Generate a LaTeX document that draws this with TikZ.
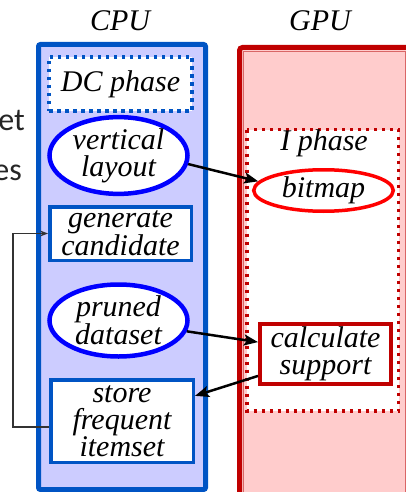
\documentclass[tikz,border=0pt]{standalone}
\usepackage{fontspec}
\setmainfont{Liberation Serif}
\newfontfamily\slidefont{Carlito}
\usetikzlibrary{shapes.geometric,arrows.meta}
\definecolor{cpublue}{RGB}{0,84,196}
\definecolor{purblue}{RGB}{0,0,255}
\definecolor{lav}{RGB}{204,204,255}
\definecolor{gpured}{RGB}{192,0,0}
\definecolor{brred}{RGB}{255,0,0}
\definecolor{pinkf}{RGB}{255,204,204}
\tikzset{
  lbl/.style={font=\fontsize{30}{27}\selectfont\itshape, align=center, inner sep=0pt},
  bluerect/.style={lbl, draw=cpublue, line width=3.5pt, fill=white, rectangle},
  blueell/.style={lbl, draw=purblue, line width=4.5pt, fill=white, ellipse},
  redell/.style={lbl, draw=brred, line width=3.5pt, fill=white, ellipse},
  redrect/.style={lbl, draw=gpured, line width=4pt, fill=white, rectangle},
  bigarrow/.style={-{Stealth[length=14pt,width=11pt,inset=3pt]}, line width=2.5pt, black},
  thinarrow/.style={-{Stealth[length=8pt,width=6pt]}, line width=1.1pt, black!80},
  frag/.style={font=\slidefont\fontsize{32}{34}\selectfont, text=black!85, inner sep=0pt, anchor=base east}
}
\begin{document}
\begin{tikzpicture}[x=1pt,y=-1pt]
\useasboundingbox (0,0) rectangle (406,492);
\clip (0,0) rectangle (406,492);
% slide fragments
\node[frag] (f1) at (25,130) {et};
\node[frag] (f2) at (22,180) {es};
% CPU column
\node[lbl, anchor=base] (cpu) at (120,31) {CPU};
\draw[draw=cpublue, fill=lav, line width=5pt, rounded corners=2pt] (38.5,44.5) rectangle (205.5,489.5);
% GPU column
\node[lbl, anchor=base] (gpu) at (320,31) {GPU};
\fill[pinkf] (239.5,47.5) rectangle (406,492);
\draw[gpured!60, line width=0.8pt] (243,492) -- (243,51) -- (405.3,51) -- (405.3,492);
\draw[gpured, line width=5pt, rounded corners=3pt] (239.5,500) -- (239.5,47.5) -- (420,47.5);
% I phase box
\draw[gpured, fill=white, line width=3.5pt, dash pattern=on 3pt off 5pt] (247,129.5) rectangle (398.5,411);
\node[lbl, anchor=base] (iph) at (324,150) {I phase};
% DC phase
\node[lbl, draw=cpublue, fill=white, line width=3.5pt, dash pattern=on 3.5pt off 4.5pt, minimum width=143pt, minimum height=54pt] (dc) at (120.5,84) {DC phase};
% CPU nodes
\node[blueell, minimum width=138pt, minimum height=68pt] (vl) at (118.5,155.5) {vertical\\layout};
\node[bluerect, minimum width=141.5pt, minimum height=53.5pt] (gc) at (120.5,233.5) {generate\\candidate};
\node[blueell, minimum width=138pt, minimum height=72pt] (pd) at (118.5,320.5) {pruned\\dataset};
\node[bluerect, minimum width=142.5pt, minimum height=82.5pt] (sf) at (122,421) {store\\frequent\\itemset};
% GPU nodes
\node[redell, minimum width=139.5pt, minimum height=41.5pt] (bm) at (323.5,190.5) {bitmap};
\node[redrect, minimum width=131pt, minimum height=60pt] (cs) at (325.5,354) {calculate\\support};
% arrows
\draw[bigarrow] (vl.-7) -- (bm.172);
\draw[bigarrow] (pd.-9) -- (cs.170);
\draw[bigarrow] (cs.198) -- (sf.19);
\draw[thinarrow] ([yshift=-6pt]sf.west) -- ++(-36,0) |- (gc.west);
\end{tikzpicture}
\end{document}
